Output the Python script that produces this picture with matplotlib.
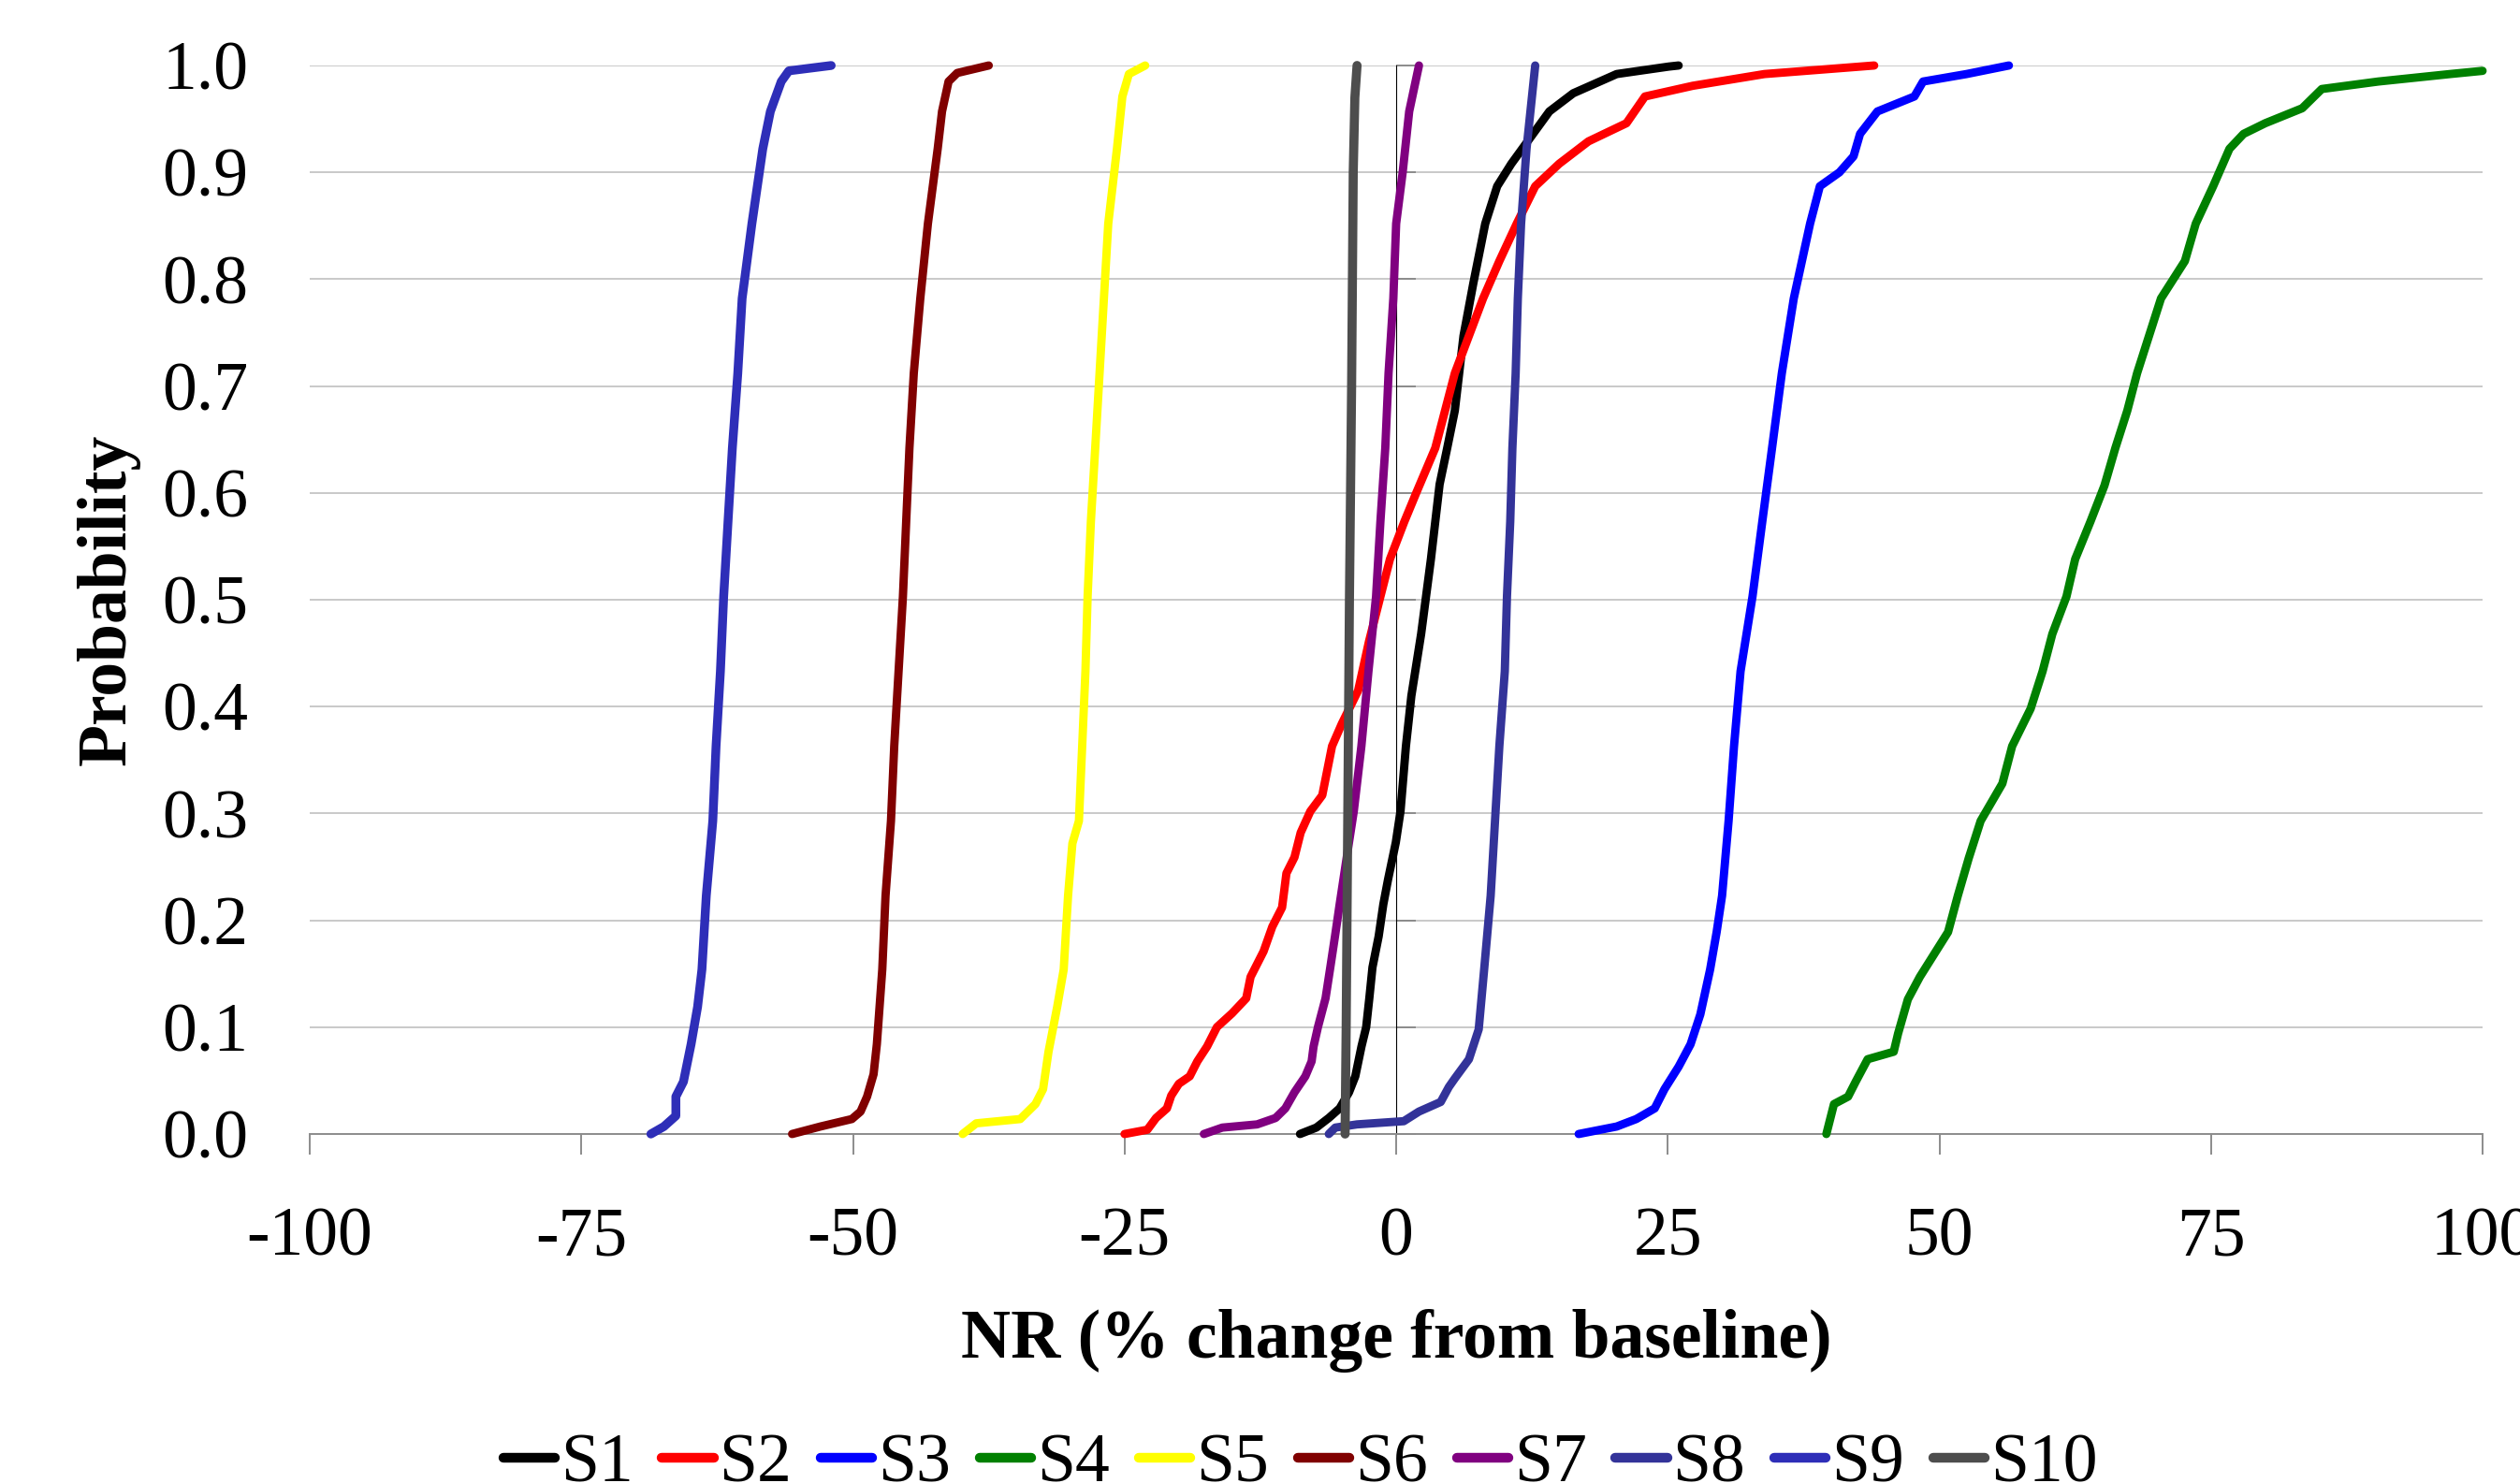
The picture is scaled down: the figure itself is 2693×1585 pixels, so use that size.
import matplotlib
matplotlib.use("Agg")
import matplotlib.pyplot as plt
import numpy as np

plt.rcParams['font.family'] = ['Liberation Serif', 'DejaVu Serif']

# ---------------- data ----------------
series_names = ["S1", "S2", "S3", "S4", "S5", "S6", "S7", "S8", "S9", "S10"]
series_colors = ["#000000", "#FF0000", "#0000FF", "#008000", "#FFFF00",
                 "#800000", "#800080", "#333399", "#2E2EB8", "#4D4D4D"]

s1_p = [0, 0.006, 0.015, 0.024, 0.039, 0.054, 0.082, 0.1, 0.127, 0.156, 0.185, 0.215, 0.238,
        0.273, 0.302, 0.363, 0.41, 0.468, 0.538, 0.608, 0.642, 0.677, 0.747, 0.796, 0.852,
        0.887, 0.908, 0.936, 0.957, 0.974, 0.992, 0.999, 1.0]
s1_x = [-8.85, -7.35, -6.2, -5.2, -4.34, -3.76, -3.19, -2.76, -2.47, -2.18, -1.61, -1.18, -0.75,
        -0.03, 0.4, 0.9, 1.4, 2.3, 3.2, 4.0, 4.7, 5.4, 6.2, 7.1, 8.2,
        9.3, 10.6, 12.6, 14.1, 16.3, 20.3, 25.1, 26.0]

s2_p = [0, 0.004, 0.015, 0.024, 0.036, 0.047, 0.054, 0.068, 0.082, 0.1, 0.113, 0.127, 0.147,
        0.171, 0.194, 0.212, 0.244, 0.259, 0.282, 0.302, 0.317, 0.363, 0.384, 0.415, 0.461,
        0.503, 0.538, 0.573, 0.60, 0.642, 0.677, 0.712, 0.747, 0.782, 0.817, 0.852, 0.887,
        0.908, 0.929, 0.946, 0.971, 0.981, 0.992, 1.0]
s2_x = [-25.0, -22.9, -22.1, -21.1, -20.7, -20.0, -19.0, -18.3, -17.4, -16.5, -15.1, -13.8, -13.4,
        -12.2, -11.4, -10.5, -10.1, -9.36, -8.79, -7.9, -6.8, -5.9, -5.0, -3.5, -2.5,
        -1.45, -0.57, 0.75, 1.85, 3.6, 4.5, 5.4, 6.7, 8.0, 9.5, 11.1, 12.8,
        15.0, 17.7, 21.2, 22.9, 27.3, 33.9, 44.0]

s3_p = [0, 0.007, 0.014, 0.024, 0.042, 0.063, 0.084, 0.112, 0.154, 0.189, 0.223, 0.293, 0.363,
        0.433, 0.503, 0.573, 0.642, 0.712, 0.782, 0.852, 0.887, 0.90, 0.915, 0.936, 0.957,
        0.971, 0.985, 0.992, 1.0]
s3_x = [16.8, 20.3, 22.1, 23.8, 24.7, 26.0, 27.1, 28.0, 28.9, 29.5, 30.0, 30.6, 31.1,
        31.7, 32.8, 33.7, 34.6, 35.5, 36.6, 38.1, 39.0, 40.8, 42.1, 42.7, 44.3,
        47.7, 48.5, 52.5, 56.4]

s4_p = [0, 0.028, 0.035, 0.049, 0.07, 0.077, 0.094, 0.126, 0.147, 0.168, 0.189, 0.223, 0.258,
        0.293, 0.328, 0.363, 0.398, 0.433, 0.468, 0.503, 0.538, 0.573, 0.607, 0.642, 0.677,
        0.712, 0.747, 0.782, 0.817, 0.852, 0.887, 0.922, 0.936, 0.946, 0.96, 0.978, 0.985,
        0.992, 0.995]
s4_x = [39.6, 40.3, 41.6, 42.3, 43.4, 45.8, 46.2, 47.1, 48.2, 49.5, 50.8, 51.7, 52.7,
        53.8, 55.8, 56.7, 58.4, 59.5, 60.4, 61.7, 62.5, 63.9, 65.2, 66.2, 67.3,
        68.2, 69.3, 70.4, 72.6, 73.6, 75.2, 76.7, 78.0, 80.0, 83.4, 85.2, 90.4,
        97.0, 100.0]

s5_p = [0, 0.01, 0.014, 0.028, 0.042, 0.077, 0.119, 0.154, 0.223, 0.272, 0.293, 0.363, 0.433,
        0.503, 0.573, 0.642, 0.712, 0.782, 0.852, 0.922, 0.971, 0.992, 1.0]
s5_x = [-39.9, -38.65, -34.6, -33.2, -32.5, -32.0, -31.2, -30.6, -30.2, -29.8, -29.2, -28.9, -28.6,
        -28.4, -28.1, -27.7, -27.3, -26.9, -26.5, -25.7, -25.2, -24.6, -23.1]

s6_p = [0, 0.007, 0.014, 0.021, 0.035, 0.056, 0.084, 0.154, 0.223, 0.293, 0.363, 0.433, 0.503,
        0.573, 0.642, 0.712, 0.782, 0.852, 0.922, 0.957, 0.985, 0.993, 1.0]
s6_x = [-55.6, -53.0, -50.1, -49.3, -48.7, -48.1, -47.8, -47.3, -47.0, -46.5, -46.2, -45.8, -45.4,
        -45.1, -44.8, -44.4, -43.8, -43.1, -42.2, -41.8, -41.2, -40.4, -37.5]

s7_p = [0, 0.006, 0.009, 0.015, 0.024, 0.039, 0.054, 0.068, 0.082, 0.1, 0.127, 0.156, 0.185,
        0.215, 0.244, 0.273, 0.302, 0.363, 0.433, 0.503, 0.573, 0.642, 0.712, 0.782, 0.852,
        0.90, 0.957, 1.0]
s7_x = [-17.7, -16.0, -12.8, -11.1, -10.2, -9.36, -8.36, -7.78, -7.6, -7.2, -6.5, -6.06, -5.63,
        -5.2, -4.77, -4.34, -3.9, -3.2, -2.55, -1.85, -1.45, -1.0, -0.7, -0.26, 0.0,
        0.6, 1.2, 2.1]

s8_p = [0, 0.006, 0.009, 0.012, 0.021, 0.03, 0.044, 0.052, 0.07, 0.098, 0.154, 0.223, 0.293,
        0.363, 0.433, 0.503, 0.573, 0.642, 0.712, 0.782, 0.852, 0.922, 1.0]
s8_x = [-6.2, -5.6, -3.6, 0.7, 2.1, 4.1, 4.85, 5.4, 6.7, 7.6, 8.1, 8.7, 9.1,
        9.5, 10.0, 10.2, 10.5, 10.7, 11.0, 11.2, 11.5, 12.0, 12.8]

s9_p = [0, 0.007, 0.017, 0.035, 0.049, 0.084, 0.119, 0.154, 0.223, 0.293, 0.363, 0.433, 0.503,
        0.573, 0.642, 0.712, 0.782, 0.852, 0.922, 0.957, 0.985, 0.995, 1.0]
s9_x = [-68.6, -67.4, -66.3, -66.3, -65.6, -64.9, -64.3, -63.9, -63.5, -62.9, -62.6, -62.2, -61.9,
        -61.5, -61.1, -60.6, -60.2, -59.3, -58.3, -57.6, -56.6, -55.9, -52.0]

s10_p = [0, 0.1, 0.3, 0.5, 0.7, 0.9, 0.97, 1.0]
s10_x = [-4.7, -4.6, -4.45, -4.3, -4.1, -3.95, -3.8, -3.6]

series_x = [s1_x, s2_x, s3_x, s4_x, s5_x, s6_x, s7_x, s8_x, s9_x, s10_x]
series_p = [s1_p, s2_p, s3_p, s4_p, s5_p, s6_p, s7_p, s8_p, s9_p, s10_p]
series_lw = [6.4, 6.4, 6.4, 6.4, 6.4, 6.4, 6.4, 6.4, 6.8, 7.0]

x_ticks = [-100, -75, -50, -25, 0, 25, 50, 75, 100]
y_ticks = [0.0, 0.1, 0.2, 0.3, 0.4, 0.5, 0.6, 0.7, 0.8, 0.9, 1.0]
x_label = "NR (% change from baseline)"
y_label = "Probability"

# ---------------- figure ----------------
W, H = 2693, 1585
fig = plt.figure(figsize=(W / 100, H / 100), dpi=100)
ax = fig.add_axes([331 / W, 1 - 1212 / H, (2653 - 331) / W, (1212 - 70) / H])

axis_gray = "#8C8C8C"
grid_gray = "#C0C0C0"
FS = 53

for name, xs, ps, col, lw in zip(series_names, series_x, series_p, series_colors, series_lw):
    ax.plot(xs, ps, color=col, lw=lw, label=name, solid_capstyle='round',
            solid_joinstyle='round', clip_on=False, zorder=3)

ax.set_xlim(-100, 100)
ax.set_ylim(0, 1)
ax.set_xticks(x_ticks)
ax.set_xticklabels([str(t) for t in x_ticks])
ax.set_yticks(y_ticks)
ax.set_yticklabels([f"{t:.1f}" for t in y_ticks])

ax.set_axisbelow(True)
ax.grid(axis='y', color=grid_gray, lw=1.2)
ax.grid(axis='x', visible=False)

for s in ['top', 'right', 'left']:
    ax.spines[s].set_visible(False)
ax.spines['bottom'].set_color(axis_gray)
ax.spines['bottom'].set_linewidth(1.4)
ax.spines['bottom'].set_zorder(2.5)

ax.tick_params(axis='x', direction='out', length=16, width=1.4, color=axis_gray,
               labelsize=FS, pad=40)
ax.tick_params(axis='y', length=0, labelsize=FS, pad=47)

# vertical axis crossing at x = 0 (ticks only, labels stay at the left)
sec = ax.secondary_yaxis(0.5)
sec.set_yticks(y_ticks)
sec.set_yticklabels([])
sec.tick_params(axis='y', direction='out', length=15, width=1.4, color=axis_gray,
                labelleft=False, labelright=False)
sec.spines['left'].set_color(axis_gray)
sec.spines['left'].set_linewidth(1.4)
sec.set_zorder(1)

ax.set_xlabel(x_label, fontsize=FS, fontweight='bold')
ax.xaxis.set_label_coords(0.5, -0.164)
ax.set_ylabel(y_label, fontsize=FS, fontweight='bold')
ax.yaxis.set_label_coords(-0.078, 0.5)

leg = fig.legend(loc='center', bbox_to_anchor=(0.516, 0.012), ncol=10, frameon=False,
                 fontsize=FS, handlelength=0.75, handletextpad=0.08, columnspacing=0.42)
for ln in leg.get_lines():
    ln.set_linewidth(7.5)

fig.savefig("out.png", dpi=100)
